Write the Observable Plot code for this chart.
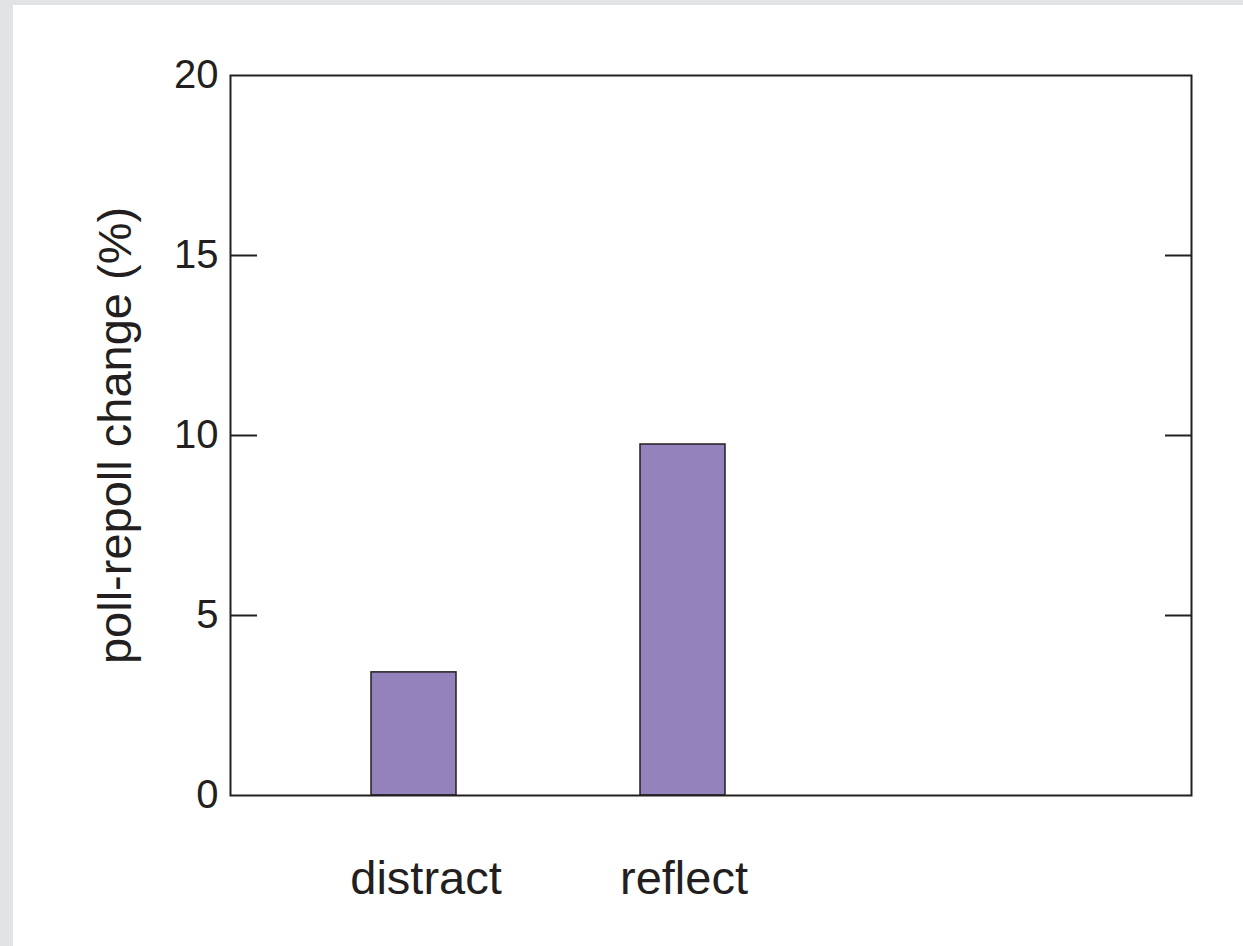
<!DOCTYPE html>
<html>
<head>
<meta charset="utf-8">
<script src="https://cdn.jsdelivr.net/npm/d3@7"></script>
<script src="https://cdn.jsdelivr.net/npm/@observablehq/plot@0.6"></script>
<style>
  html, body { margin: 0; padding: 0; }
  body { background: #e2e3e5; width: 1243px; height: 946px; overflow: hidden; }
  #chart { position: absolute; left: 13px; top: 5px; width: 1230px; height: 941px; background: #ffffff; }
  #chart svg { display: block; }
</style>
</head>
<body>
<div id="chart"></div>
<script>
const categories = ["distract", "reflect"];
const values = [3.42, 9.75];
const yTicks = [0, 5, 10, 15, 20];
const innerTicks = [5, 10, 15];
const yLabel = "poll-repoll change (%)";

const data = categories.map((c, i) => ({category: c, value: values[i]}));

const W = 1230, H = 941;
const mL = 217, mR = 52, mT = 70, mB = 151;
const plotW = W - mL - mR;
const ink = "#231f20";

const chart = Plot.plot({
  width: W,
  height: H,
  marginLeft: mL,
  marginRight: mR,
  marginTop: mT,
  marginBottom: mB,
  style: {fontFamily: "'Liberation Sans', Arial, Helvetica, sans-serif", background: "#ffffff", color: ink},
  x: {type: "band", domain: categories, range: [266, 804], paddingInner: 0.684, paddingOuter: 0.342, label: null},
  y: {domain: [0, 20], label: null},
  marks: [
    Plot.barY(data, {x: "category", y: "value", fill: "#9482bc", stroke: ink, strokeWidth: 1.5}),
    Plot.tickY(innerTicks, {y: d => d, stroke: ink, strokeWidth: 2, insetRight: plotW - 27}),
    Plot.tickY(innerTicks, {y: d => d, stroke: ink, strokeWidth: 2, insetLeft: plotW - 26}),
    Plot.frame({stroke: ink, strokeWidth: 2}),
    Plot.axisY({ticks: yTicks, tickSize: 0, tickPadding: 12, fontSize: 40, fill: ink, label: null, tickFormat: d => String(d)}),
    Plot.axisX({ticks: [categories[0]], tickSize: 0, tickPadding: 65, fontSize: 47, fill: ink, label: null, dx: 12}),
    Plot.axisX({ticks: [categories[1]], tickSize: 0, tickPadding: 65, fontSize: 47, fill: ink, label: null, dx: 1}),
    Plot.text([yLabel], {text: d => d, frameAnchor: "left", textAnchor: "middle", rotate: -90, dx: -115, fontSize: 47, fill: ink, lineAnchor: "middle"})
  ]
});
document.getElementById("chart").appendChild(chart);
</script>
</body>
</html>
